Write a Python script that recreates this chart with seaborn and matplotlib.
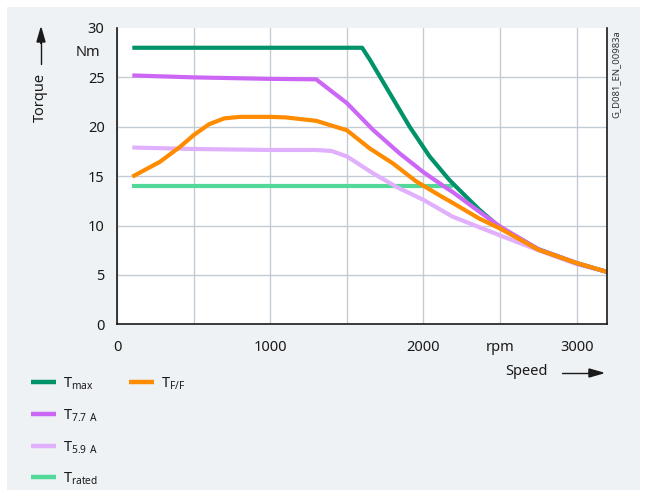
import matplotlib
matplotlib.use("Agg")
import matplotlib.pyplot as plt
from matplotlib.lines import Line2D
from matplotlib.patches import Rectangle
from matplotlib.ticker import MultipleLocator
import seaborn as sns
import pandas as pd

# ---- data ----
speed_tmax = [100, 1600, 1650, 1780, 1910, 2040, 2170, 2280, 2365, 2500, 2750, 3000, 3200]
torque_tmax = [28, 28, 26.8, 23.4, 20.0, 17.0, 14.6, 12.9, 11.6, 9.8, 7.6, 6.2, 5.3]

speed_77 = [100, 500, 1000, 1300, 1500, 1670, 1845, 2000, 2150, 2190, 2365, 2500, 2750, 3000, 3200]
torque_77 = [25.2, 25.0, 24.85, 24.8, 22.4, 19.7, 17.3, 15.4, 13.8, 13.4, 11.4, 9.9, 7.6, 6.2, 5.3]

speed_59 = [100, 500, 1000, 1300, 1400, 1500, 1670, 1825, 2000, 2190, 2500, 2750, 3000, 3200]
torque_59 = [17.9, 17.75, 17.65, 17.65, 17.55, 17.0, 15.3, 13.9, 12.6, 10.9, 9.0, 7.5, 6.1, 5.3]

speed_ff = [100, 280, 410, 500, 600, 700, 800, 1000, 1100, 1300, 1500, 1650, 1800,
            1950, 2100, 2190, 2365, 2500, 2750, 3000, 3200]
torque_ff = [14.95, 16.45, 17.95, 19.15, 20.25, 20.85, 21.0, 21.0, 20.95, 20.6, 19.65, 17.8, 16.3,
             14.5, 13.1, 12.3, 10.7, 9.7, 7.55, 6.2, 5.3]

speed_rated = [100, 2190]
torque_rated = [14.0, 14.0]

series_names = ["T_rated", "T_5.9A", "T_max", "T_7.7A", "T_F/F"]
colors = {"T_max": "#00936a", "T_7.7A": "#cc66f5", "T_5.9A": "#e0b0fc",
          "T_rated": "#52d898", "T_F/F": "#ff8c00"}
legend_labels = {"T_max": r"T$_{\mathrm{max}}$", "T_7.7A": r"T$_{\mathrm{7.7\ A}}$",
                 "T_5.9A": r"T$_{\mathrm{5.9\ A}}$", "T_rated": r"T$_{\mathrm{rated}}$",
                 "T_F/F": r"T$_{\mathrm{F/F}}$"}

x_ticks = [0, 1000, 2000, 2500, 3000]
x_ticklabels = ["0", "1000", "2000", "rpm", "3000"]
y_ticks = [0, 5, 10, 15, 20, 25, 30]

frames = []
for name, sp, tq in [("T_rated", speed_rated, torque_rated), ("T_5.9A", speed_59, torque_59),
                     ("T_max", speed_tmax, torque_tmax), ("T_7.7A", speed_77, torque_77),
                     ("T_F/F", speed_ff, torque_ff)]:
    frames.append(pd.DataFrame({"speed": sp, "torque": tq, "series": name}))
df = pd.concat(frames, ignore_index=True)

sns.set_style("white")
plt.rcParams["font.family"] = ["Noto Sans", "DejaVu Sans"]
plt.rcParams["mathtext.fontset"] = "custom"
plt.rcParams["mathtext.rm"] = "Noto Sans"

W, H = 645, 494
fig = plt.figure(figsize=(W / 100, H / 100), dpi=100, facecolor="white")
fig.add_artist(Rectangle((7 / W, 1 - 490 / H), (640 - 7) / W, (490 - 7) / H,
                         transform=fig.transFigure, facecolor="#eef2f5", edgecolor="none", zorder=0))

ax = fig.add_axes([117 / W, 1 - 324.3 / H, (607.3 - 117) / W, (324.3 - 28) / H])
ax.set_facecolor("white")

sns.lineplot(data=df, x="speed", y="torque", hue="series", hue_order=series_names,
             palette=colors, estimator=None, sort=False, linewidth=3.0, ax=ax, legend=False)
for ln in ax.get_lines():
    ln.set_solid_capstyle("butt")
    ln.set_solid_joinstyle("round")

ax.set_xlim(0, 3200)
ax.set_ylim(0, 30)
ax.set_xlabel("")
ax.set_ylabel("")
ax.set_xticks(x_ticks)
ax.set_xticklabels(x_ticklabels)
ax.set_yticks(y_ticks)
ax.xaxis.set_minor_locator(MultipleLocator(500))
ax.tick_params(axis="both", which="major", labelsize=10.5, colors="#1a1a1a",
               direction="out", length=5, width=1.0, pad=4)
ax.tick_params(axis="x", which="minor", length=0)
ax.tick_params(axis="x", which="major", pad=6)
ax.tick_params(axis="y", which="major", pad=4)
# the rpm position has no tick mark
ax.xaxis.get_major_ticks()[3].tick1line.set_visible(False)

ax.grid(True, which="both", axis="x", color="#c3ccd4", linewidth=1.0)
ax.grid(True, which="major", axis="y", color="#c3ccd4", linewidth=1.0)
ax.set_axisbelow(True)
ax.yaxis.get_gridlines()[-1].set_visible(False)

for s in ["left", "bottom", "right"]:
    ax.spines[s].set_visible(True)
    ax.spines[s].set_color("#1a1a1a")
    ax.spines[s].set_linewidth(1.2)
ax.spines["top"].set_visible(False)

# "Nm" unit label
ax.text(-0.035, 27.5, "Nm", transform=ax.get_yaxis_transform(), ha="right", va="center",
        fontsize=10.5, color="#1a1a1a")

def fx(px):
    return px / W

def fy(py):
    return 1 - py / H

# Torque label with arrow
fig.text(fx(40), fy(97), "Torque", rotation=90, ha="center", va="center", fontsize=10.5, color="#1a1a1a")
fig.add_artist(Line2D([fx(41), fx(41)], [fy(64), fy(40)], color="#1a1a1a", linewidth=1.0))
fig.patches.append(matplotlib.patches.FancyArrow(fx(41), fy(44), 0, (fy(28) - fy(44)), width=0.0,
                                                 head_width=8 / W, head_length=14 / H, length_includes_head=True,
                                                 color="#1a1a1a", transform=fig.transFigure))

# Speed label with arrow
fig.text(fx(527), fy(371), "Speed", ha="center", va="center", fontsize=10.5, color="#1a1a1a")
fig.add_artist(Line2D([fx(562), fx(592)], [fy(373), fy(373)], color="#1a1a1a", linewidth=1.0))
fig.patches.append(matplotlib.patches.FancyArrow(fx(588), fy(373), fx(603) - fx(588), 0, width=0.0,
                                                 head_width=8 / H, head_length=14 / W, length_includes_head=True,
                                                 color="#1a1a1a", transform=fig.transFigure))

# figure id on the right
fig.text(fx(616), fy(74), "G_D081_EN_00983a", rotation=90, ha="center", va="center",
         fontsize=6.8, color="#333333")

# manual legend
legend_pos = {"T_max": (31, 382), "T_7.7A": (31, 414), "T_5.9A": (31, 446),
              "T_rated": (31, 477), "T_F/F": (129, 382)}
for name in ["T_max", "T_7.7A", "T_5.9A", "T_rated", "T_F/F"]:
    x0, y0 = legend_pos[name]
    fig.add_artist(Line2D([fx(x0), fx(x0 + 25)], [fy(y0), fy(y0)], color=colors[name],
                          linewidth=3.2, solid_capstyle="butt"))
    fig.text(fx(x0 + 32), fy(y0 + 2), legend_labels[name], ha="left", va="center",
             fontsize=10.5, color="#1a1a1a")

fig.savefig("out.png", dpi=100, facecolor="white")
